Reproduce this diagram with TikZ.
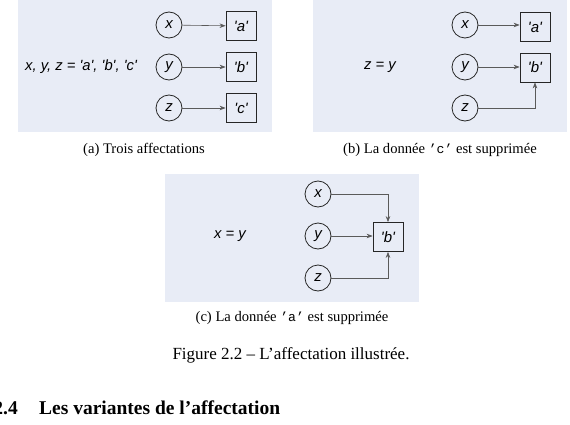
\documentclass[tikz,border=0pt]{standalone}
\usepackage{fontspec}
\setmainfont{Liberation Serif}
\setsansfont{Liberation Sans}
\setmonofont[Scale=0.9]{Liberation Mono}
\usetikzlibrary{arrows.meta}
\definecolor{bgc}{HTML}{E8ECF6}
\definecolor{linec}{HTML}{5A5A5A}
\newcommand{\qv}[1]{\textquotesingle#1\textquotesingle}
\begin{document}
\begin{tikzpicture}[x=1pt,y=-1pt,
  var/.style={circle, draw=black!85, line width=0.8pt, minimum size=26pt, inner sep=0pt,
    font=\sffamily\itshape\fontsize{15}{15}\selectfont},
  val/.style={rectangle, draw=black!85, line width=0.8pt, minimum width=30pt, minimum height=29pt, inner sep=0pt,
    font=\sffamily\itshape\fontsize{15}{15}\selectfont},
  conn/.style={draw=linec, line width=0.6pt, -{Stealth[length=6pt,width=4.5pt]}},
  lbl/.style={font=\sffamily\itshape\fontsize{14.8}{16}\selectfont},
  subcap/.style={font=\fontsize{14.6}{16}\selectfont},
  figcap/.style={font=\fontsize{17}{19}\selectfont},
  head/.style={font=\bfseries\fontsize{19.5}{21}\selectfont, inner sep=0pt}]
\useasboundingbox (0,0) rectangle (570,425);

% panel (a)
\fill[bgc] (18,0) rectangle (272,132);
\node[lbl] (ta) at (81,67) {x, y, z = \qv{a}, \qv{b}, \qv{c}};
\node[var] (xa) at (169,25) {x};
\node[var] (ya) at (169,67) {y};
\node[var] (za) at (169,108) {z};
\node[val] (aa) at (241,26) {\qv{a}};
\node[val] (ba) at (241,67) {\qv{b}};
\node[val] (ca) at (241,108) {\qv{c}};
\draw[conn] (xa) -- (aa);
\draw[conn] (ya) -- (ba);
\draw[conn] (za) -- (ca);
\node[subcap] (capa) at (144,150) {(a) Trois affectations};

% panel (b)
\fill[bgc] (313,0) rectangle (567,132);
\node[lbl] (tb) at (380,67) {z = y};
\node[var] (xb) at (465,25) {x};
\node[var] (yb) at (465,67) {y};
\node[var] (zb) at (465,108) {z};
\node[val] (ab) at (535,27) {\qv{a}};
\node[val] (bb) at (535,67.5) {\qv{b}};
\draw[conn] (xb) -- (xb -| ab.west);
\draw[conn] (yb) -- (yb -| bb.west);
\draw[conn] (zb.east) -| (bb.south);
\node[subcap] (capb) at (440,150) {(b) La donnée \texttt{’c’} est supprimée};

% panel (c)
\fill[bgc] (165,174) rectangle (419,302);
\node[lbl] (tc) at (230,236) {x = y};
\node[var] (xc) at (318,194) {x};
\node[var] (yc) at (318,236) {y};
\node[var] (zc) at (318,278) {z};
\node[val] (bc) at (388,237) {\qv{b}};
\draw[conn] (xc.east) -| (bc.north);
\draw[conn] (yc) -- (yc -| bc.west);
\draw[conn] (zc.east) -| (bc.south);
\node[subcap] (capc) at (292,318) {(c) La donnée \texttt{’a’} est supprimée};

% figure caption and heading
\node[figcap] (fig) at (291,355) {Figure 2.2 – L'affectation illustrée.};
\node[head, anchor=base east] (num) at (18,414) {2.4};
\node[head, anchor=base west] (sec) at (39,414) {Les variantes de l'affectation};
\end{tikzpicture}
\end{document}
